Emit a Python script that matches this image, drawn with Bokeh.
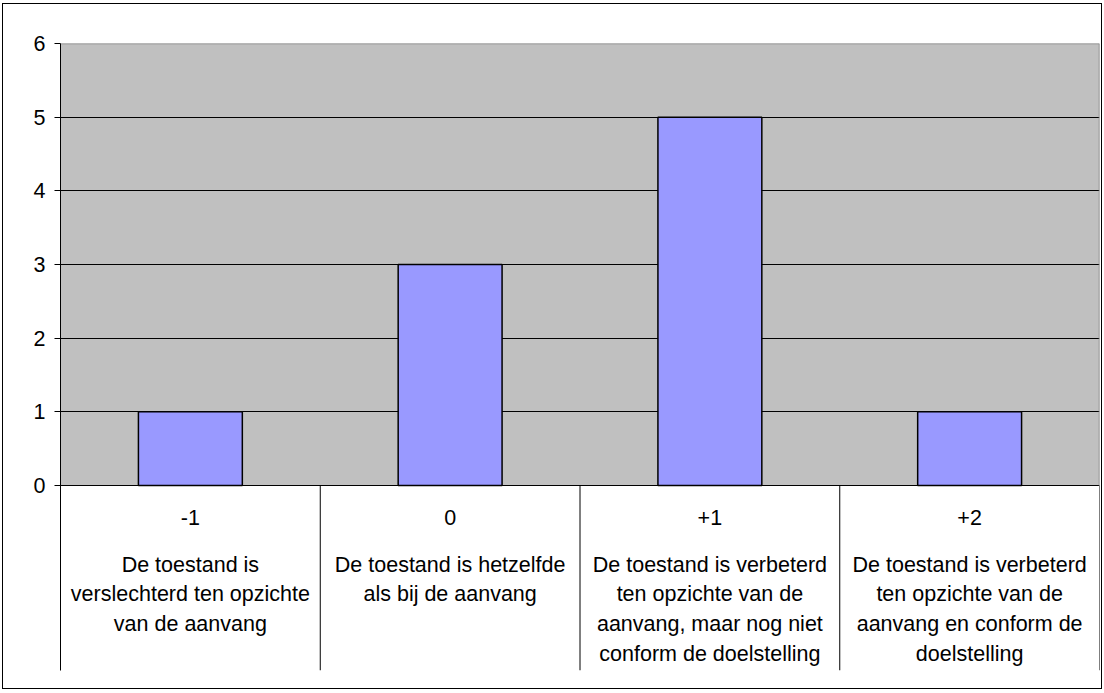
from bokeh.plotting import figure
from bokeh.models import Range1d, FixedTicker, ColumnDataSource
from bokeh.embed import file_html
from bokeh.resources import INLINE
from bokeh.core.properties import value

# ---- data ----
categories = ["-1", "0", "+1", "+2"]
counts = [1, 3, 5, 1]
descriptions = [
    ["De toestand is", "verslechterd ten opzichte", "van de aanvang"],
    ["De toestand is hetzelfde", "als bij de aanvang"],
    ["De toestand is verbeterd", "ten opzichte van de", "aanvang, maar nog niet", "conform de doelstelling"],
    ["De toestand is verbeterd", "ten opzichte van de", "aanvang en conform de", "doelstelling"],
]
y_ticks = [0, 1, 2, 3, 4, 5, 6]

# ---- layout ----
W, H = 1100, 686
ML, MR, MT, MB = 57, 4, 39, 20
frame_h = H - MT - MB
ymax = 6
ymin = -ymax * 185.0 / 442.0
px_per_unit = frame_h / (ymax - ymin)
FONT = "Liberation Sans"
FS = "21.5px"

p = figure(width=W, height=H, output_backend="svg", toolbar_location=None,
           x_range=Range1d(0, len(categories)), y_range=Range1d(ymin, ymax),
           min_border_left=ML, min_border_right=MR, min_border_top=MT, min_border_bottom=MB,
           x_axis_type=None)
p.styles = {"border": "1px solid black", "margin": "3px 0px 0px 2px"}
p.outline_line_color = None
p.background_fill_color = "white"
p.border_fill_color = "white"

# plot area background
p.quad(left=[0], right=[len(categories)], bottom=[0], top=[ymax],
       fill_color="#C0C0C0", line_color=None, level="underlay")

# y axis
yax = p.yaxis[0]
yax.ticker = FixedTicker(ticks=y_ticks)
yax.major_tick_in = 0
yax.major_tick_out = 6
yax.minor_tick_line_color = None
yax.major_tick_line_color = "black"
yax.axis_line_color = "black"
yax.major_label_text_font = FONT
yax.major_label_text_font_size = FS
yax.major_label_text_color = "black"
yax.major_label_standoff = 9

p.xgrid.visible = False
p.ygrid.ticker = FixedTicker(ticks=y_ticks)
p.ygrid.grid_line_color = "black"
p.ygrid.grid_line_width = 1

# gray top / right border of plot area
p.segment(x0=[0, len(categories)], y0=[ymax, 0], x1=[len(categories), len(categories)], y1=[ymax, ymax],
          line_color="#808080", line_width=1.5)

# bars
xs = [i + 0.5 for i in range(len(categories))]
p.vbar(x=xs, top=counts, bottom=0, width=0.4,
       fill_color="#9999FF", line_color="black", line_width=1.5)

# category separators below the axis
seps = list(range(1, len(categories) + 1))
p.segment(x0=seps, y0=[0] * len(seps), x1=seps, y1=[ymin] * len(seps),
          line_color="black", line_width=1)

# category labels
tx, ty, tt = [], [], []
for i, (cat, lines) in enumerate(zip(categories, descriptions)):
    tx.append(xs[i]); ty.append(-32 / px_per_unit); tt.append(cat)
    for j, ln in enumerate(lines):
        tx.append(xs[i]); ty.append(-(79 + 29.7 * j) / px_per_unit); tt.append(ln)
src = ColumnDataSource(dict(x=tx, y=ty, text=tt))
p.text(x="x", y="y", text="text", source=src, text_align="center", text_baseline="middle",
       text_font=value(FONT), text_font_size=FS, text_color="black")

open("out.html", "w").write(file_html(p, INLINE))
